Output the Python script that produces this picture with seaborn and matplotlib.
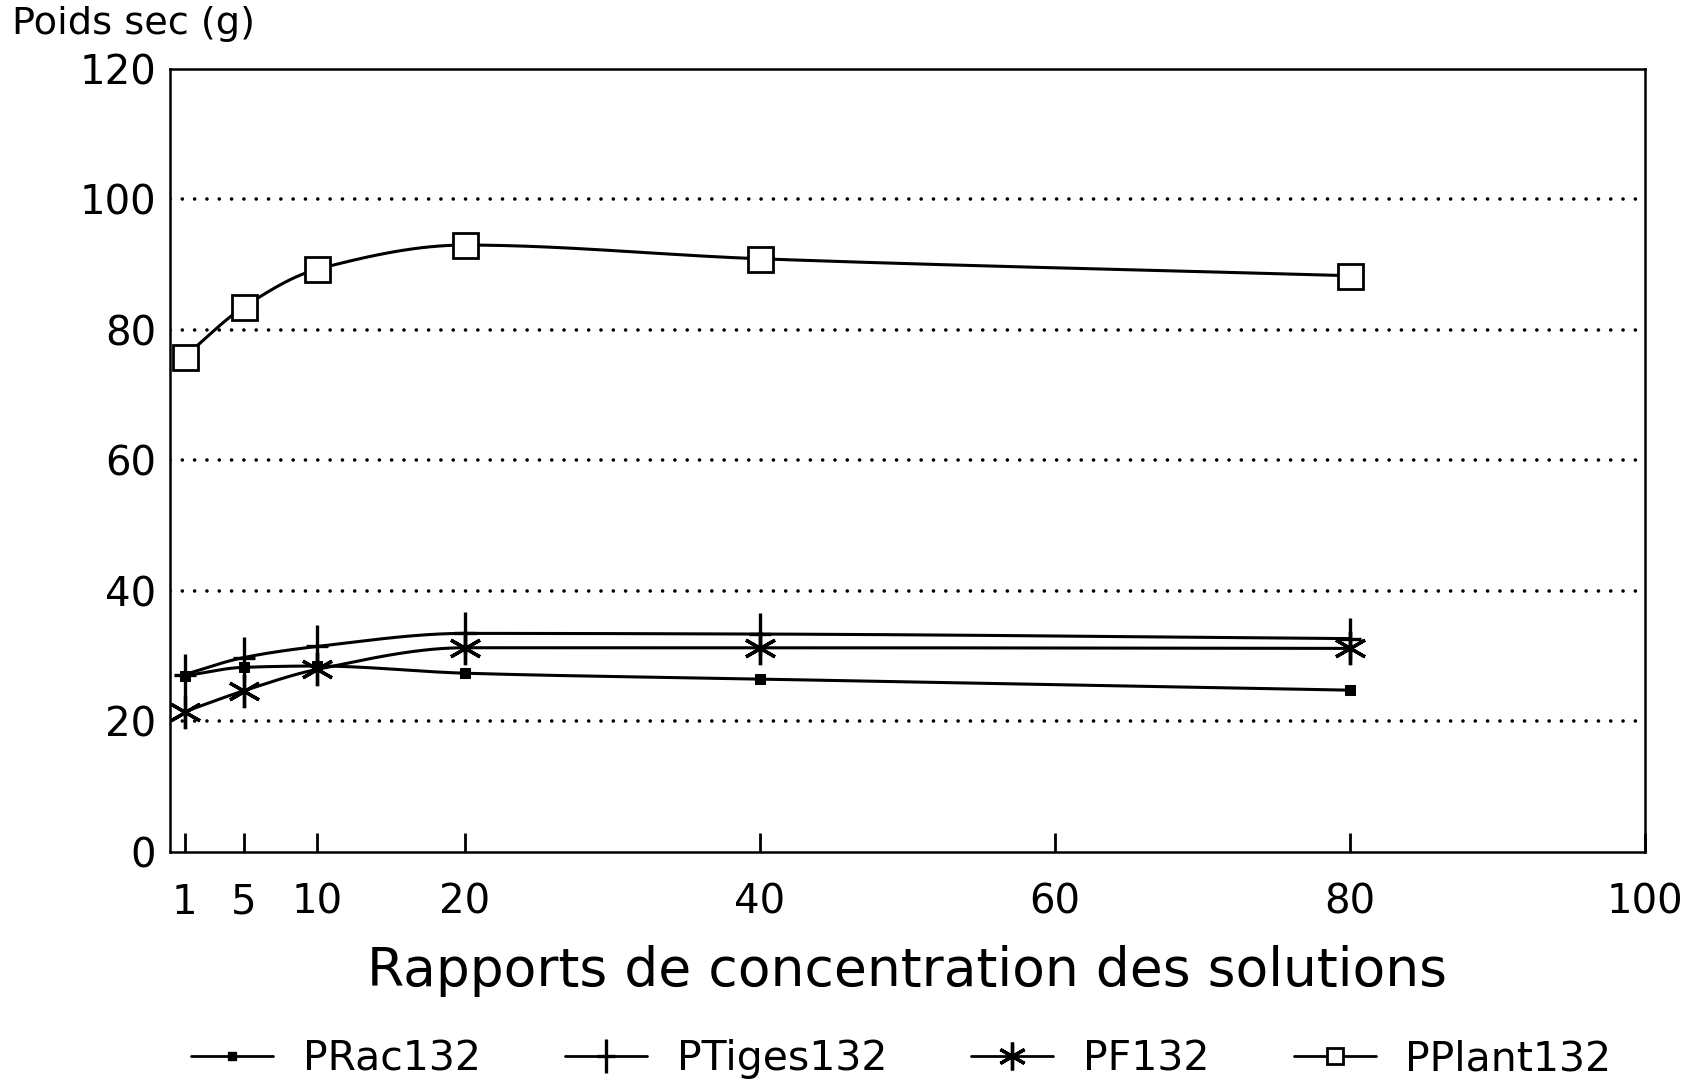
import numpy as np
import pandas as pd
import matplotlib
matplotlib.use("Agg")
import matplotlib.pyplot as plt
from matplotlib.lines import Line2D
from matplotlib.path import Path
import seaborn as sns

# ---- data ----
ratios = [1, 5, 10, 20, 40, 80]
prac = [27.0, 28.3, 28.5, 27.4, 26.5, 24.8]
ptiges = [27.2, 29.8, 31.5, 33.5, 33.4, 32.7]
pf = [21.5, 24.7, 28.0, 31.3, 31.3, 31.2]
pplant = [75.9, 83.5, 89.3, 93.0, 90.9, 88.3]
series_names = ["PRac132", "PTiges132", "PF132", "PPlant132"]
xticks = [1, 5, 10, 20, 40, 60, 80, 100]
yticks = [0, 20, 40, 60, 80, 100, 120]

sns.set_theme(style="white")
plt.rcParams['font.family'] = ['DejaVu Sans']
plt.rcParams['text.color'] = 'black'
plt.rcParams['axes.labelcolor'] = 'black'
plt.rcParams['xtick.color'] = 'black'
plt.rcParams['ytick.color'] = 'black'

df = pd.DataFrame({
    "x": ratios * 4,
    "y": prac + ptiges + pf + pplant,
    "serie": sum([[n] * len(ratios) for n in series_names], []),
})

fig = plt.figure(figsize=(16.91, 10.84), dpi=100)
ax = fig.add_axes([0.1005, 0.214, 0.8723, 0.7225])

def pchip(x, y, xs):
    x = np.asarray(x, float); y = np.asarray(y, float)
    h = np.diff(x); d = np.diff(y) / h
    n = len(x); m = np.zeros(n)
    for k in range(1, n - 1):
        if d[k - 1] * d[k] > 0:
            w1 = 2 * h[k] + h[k - 1]; w2 = h[k] + 2 * h[k - 1]
            m[k] = (w1 + w2) / (w1 / d[k - 1] + w2 / d[k])
    m[0] = d[0]; m[-1] = d[-1]
    idx = np.clip(np.searchsorted(x, xs) - 1, 0, n - 2)
    t = (xs - x[idx]) / h[idx]
    h00 = 2 * t**3 - 3 * t**2 + 1; h10 = t**3 - 2 * t**2 + t
    h01 = -2 * t**3 + 3 * t**2; h11 = t**3 - t**2
    return h00 * y[idx] + h10 * h[idx] * m[idx] + h01 * y[idx + 1] + h11 * h[idx] * m[idx + 1]

tall_plus = Path([(-0.55, 0), (0.55, 0), (0, -1), (0, 1)],
                 [Path.MOVETO, Path.LINETO, Path.MOVETO, Path.LINETO])

styles = {
    "PRac132": dict(marker="s", markersize=7, markerfacecolor="black"),
    "PTiges132": dict(marker=tall_plus, markersize=30, markeredgewidth=2.4),
    "PF132": dict(marker=(6, 2, 0), markersize=24, markeredgewidth=2.4),
    "PPlant132": dict(marker="s", markersize=18, markerfacecolor="white", markeredgewidth=2.0),
}

xs = np.linspace(1, 80, 400)
for name in series_names:
    sub = df[df.serie == name]
    ax.plot(xs, pchip(sub.x.values, sub.y.values, xs), color="black", lw=2.2, zorder=3)
    sns.lineplot(data=sub, x="x", y="y", ax=ax, color="black", linestyle="",
                 markeredgecolor="black", zorder=4, **styles[name])

for gy in [20, 40, 60, 80, 100]:
    ax.axhline(gy, color="black", lw=2.6, linestyle=(0, (0.01, 3.4)),
               dash_capstyle="round", zorder=1)

ax.set_xlim(0, 100)
ax.set_ylim(0, 120)
ax.set_xticks(xticks)
ax.set_xticklabels([str(t) for t in xticks])
ax.set_yticks(yticks)
ax.tick_params(axis="x", direction="in", length=14, width=2, pad=22, labelsize=29, bottom=True)
ax.tick_params(axis="y", length=0, pad=10, labelsize=29)
for sp in ax.spines.values():
    sp.set_visible(True)
    sp.set_color("black")
    sp.set_linewidth(1.8)
ax.set_xlabel("Rapports de concentration des solutions", fontsize=38.5, labelpad=16)
ax.set_ylabel("")
fig.text(0.007, 0.978, "Poids sec (g)", fontsize=27.5, ha="left", va="center")

handles = [Line2D([0], [0], color="black", lw=2.0, markeredgecolor="black", **styles[n])
           for n in series_names]
sizes = [6, 24, 20, 12]
for h, s in zip(handles, sizes):
    h.set_markersize(s)
fig.legend(handles, series_names, loc="center", bbox_to_anchor=(0.533, 0.023), ncol=4,
           frameon=False, fontsize=29.5, handlelength=2.0, columnspacing=2.05, handletextpad=0.73)
ax.grid(False)
fig.savefig("out.png", dpi=100)
